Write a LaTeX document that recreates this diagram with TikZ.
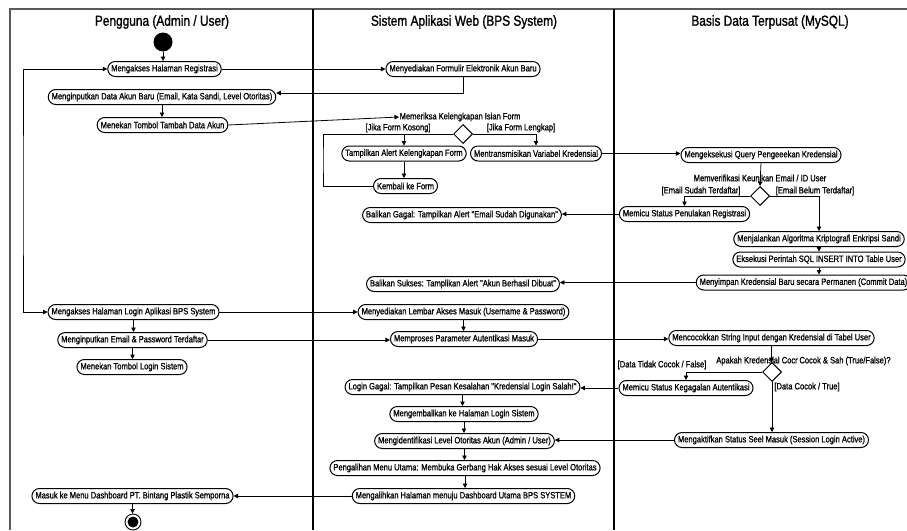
\documentclass[tikz,border=0pt]{standalone}
\usepackage{fontspec}
\usetikzlibrary{arrows.meta,shapes.geometric,calc}
\newfontfamily\narrowfont[FakeStretch=0.82,FakeBold=0.9]{Liberation Sans}
\newfontfamily\narrowheadfont[FakeStretch=0.82,FakeBold=1.2]{Liberation Sans}
\newcommand{\actfont}{\narrowfont\fontsize{9.2}{10}\selectfont}
\newcommand{\headfont}{\narrowheadfont\fontsize{14.5}{16}\selectfont}
\tikzset{
  act/.style={draw, line width=1pt, rounded corners=7.5pt, minimum height=15pt,
    inner xsep=3.5pt, inner ysep=1pt, font=\actfont, fill=white},
  guard/.style={font=\actfont, inner sep=0.5pt},
  decision/.style={diamond, draw, line width=1pt, minimum width=19pt,
    minimum height=19pt, inner sep=0pt, fill=white},
  arr/.style={line width=0.8pt, -{Triangle[length=4.5pt,width=4.5pt]}},
  link/.style={line width=0.8pt},
  lane/.style={line width=1.2pt},
  frame/.style={line width=1.2pt, draw=black!65},
  head/.style={font=\headfont, inner sep=0pt}
}
\begin{document}
\begin{tikzpicture}[x=1pt, y=-1pt]
\useasboundingbox (0,0) rectangle (907,530);
\fill[white] (0,0) rectangle (907,530);

% swimlane frame and dividers
\draw[frame] (10,530) -- (10,9) -- (907,9);
\draw[lane] (313,9) -- (313,530);
\draw[lane] (614,9) -- (614,530);

% lane titles
\node[head] (h1) at (162,22) {Pengguna (Admin / User)};
\node[head] (h2) at (464,22) {Sistem Aplikasi Web (BPS System)};
\node[head] (h3) at (770,22) {Basis Data Terpusat (MySQL)};

% initial and final nodes
\node[circle, fill=black, minimum size=19pt, inner sep=0pt] (start) at (163,42) {};
\node[circle, draw, line width=0.9pt, fill=white, minimum size=16pt, inner sep=0pt] (end) at (133,522) {};
\node[circle, fill=black, minimum size=11pt, inner sep=0pt] (endin) at (end.center) {};

% user lane
\node[act] (A1) at (164.5,69) {Mengakses Halaman Registrasi};
\node[act] (A2) at (162,97) {Menginputkan Data Akun Baru (Email, Kata Sandi, Level Otoritas)};
\node[act] (A3) at (162.5,125) {Menekan Tombol Tambah Data Akun};
\node[act] (A4) at (133.5,312) {Mengakses Halaman Login Aplikasi BPS System};
\node[act] (A5) at (132.5,340) {Menginputkan Email \& Password Terdaftar};
\node[act] (A6) at (132,367) {Menekan Tombol Login Sistem};
\node[act] (A7) at (132.5,496) {Masuk ke Menu Dashboard PT. Bintang Plastik Semporna};

% web system lane
\node[act] (B1) at (463,69) {Menyediakan Formulir Elektronik Akun Baru};
\node[guard, anchor=west] (mem) at (399,117) {Memeriksa Kelengkapan Isian Form};
\node[decision] (D1) at (463,134) {};
\node[guard] (kosong) at (398,128) {[Jika Form Kosong]};
\node[guard] (lengkap) at (521,128) {[Jika Form Lengkap]};
\node[act] (B2) at (404,153.5) {Tampilkan Alert Kelengkapan Form};
\node[act] (B3) at (536,153.5) {Mentransmisikan Variabel Kredensial};
\node[act] (B4) at (405.5,186) {Kembali ke Form};
\node[act] (B5) at (462,215) {Balikan Gagal: Tampilkan Alert "Email Sudah Digunakan"};
\node[act] (B6) at (463,284) {Balikan Sukses: Tamplikan Alert "Akun Berhasil Dibuat"};
\node[act] (B7) at (463.5,312) {Menyediakan Lembar Akses Masuk (Username \& Password)};
\node[act] (B8) at (464,339) {Memproses Parameter Autentikasi Masuk};
\node[act] (B9) at (462.5,387) {Login Gagal: Tampilkan Pesan Kesalahan "Kredensial Login Salah!"};
\node[act] (B10) at (464,414) {Mengembalikan ke Halaman Login Sistem};
\node[act] (B11) at (464.5,441) {Mengidentifikasi Level Otoritas Akun (Admin / User)};
\node[act] (B12) at (465,468) {Pengalihan Menu Utama: Membuka Gerbang Hak Akses sesuai Level Otoritas};
\node[act] (B13) at (463.5,496) {Mengalihkan Halaman menuju Dashboard Utama BPS SYSTEM};

% database lane
\node[act] (C1) at (761,155) {Mengeksekusi Query Pengeeekan Kredensial};
\node[guard] (verif) at (760,178) {Memverifikasi Keunikan Email / ID User};
\node[decision] (D2) at (760,196) {};
\node[guard] (sudah) at (701,191) {[Email Sudah Terdaftar]};
\node[guard] (belum) at (815,191) {[Email Belum Terdaftar]};
\node[act] (C2) at (684.5,214) {Memicu Status Penulakan Registrasi};
\node[act] (C3) at (819,239) {Menjalankan Algoritma Kriptografi Enkripsi Sandi};
\node[act] (C4) at (819,259.5) {Eksekusi Perintah SQL INSERT INTO Table User};
\node[act] (C5) at (803.5,282.5) {Menyimpan Kredensial Baru secara Permanen (Commit Data)};
\node[act] (C6) at (771.5,338) {Mencocokkan String Input dengan Kredensial di Tabel User};
\node[guard] (ask1) at (757,361) {Apakah Kredensial Cocr};
\node[guard] (ask2) at (845,361) {Cocok \& Sah (True/False)?};
\node[decision] (D3) at (772,372) {};
\node[guard] (tidak) at (662,365) {[Data Tidak Cocok / False]};
\node[guard] (cocok) at (807,387) {[Data Cocok / True]};
\node[act] (C7) at (686,388) {Memicu Status Kegagalan Autentikasi};
\node[act] (C8) at (771.5,440) {Mengaktifkan Status Seel Masuk (Session Login Active)};

% routing points
\coordinate (formLoop) at (323,160);
\coordinate (userLoop) at (23,200);

% registration flow
\draw[arr] (start.south) -- (start.south |- A1.north);
\draw[arr] (A1.east) -- (B1.west);
\draw[arr] (B1.south) |- ([yshift=4pt]A2.east);
\draw[arr] (A2.south) -- (A2.south |- A3.north);
\draw[arr] (A3.east) -- (mem.west);
\draw[link] (B4.west) -| (formLoop) |- (D1.west);
\draw[arr] (D1.west) -| (B2.north);
\draw[arr] (D1.east) -| (B3.north);
\draw[arr] (B2.south) -- (B2.south |- B4.north);
\draw[arr] (B3.east) -- (B3.east -| C1.west);
\draw[arr] (C1.south) -- (D2.north);
\draw[arr] (D2.west) -| (C2.north);
\draw[arr] (D2.east) -| (C3.north);
\draw[arr] (C2.west) -- (C2.west -| B5.east);
\draw[arr] (C3.south) -- (C3.south |- C4.north);
\draw[arr] (C4.south) -- (C4.south |- C5.north);
\draw[arr] (C5.west) -- (C5.west -| B6.east);
\draw[{Triangle[length=4.5pt,width=4.5pt]}-{Triangle[length=4.5pt,width=4.5pt]}, line width=0.8pt]
  (A1.west) -| (userLoop) |- (A4.west);

% login flow
\draw[arr] (A4.east) -- (A4.east -| B7.west);
\draw[arr] (A4.south) -- (A4.south |- A5.north);
\draw[arr] (A5.south) -- (A5.south |- A6.north);
\draw[arr] (B7.south) -- (B7.south |- B8.north);
\draw[arr] (A5.east) -- (A5.east -| B8.west);
\draw[arr] (B8.east) -- (B8.east -| C6.west);
\draw[arr] (C6.south) -- (C6.south |- D3.north);
\draw[arr] (D3.west) -| (C7.north);
\draw[arr] (D3.south) -- (D3.south |- C8.north);
\draw[arr] (C7.west) -- (C7.west -| B9.east);
\draw[arr] (C8.west) -- (C8.west -| B11.east);
\draw[arr] (B9.south) -- (B9.south |- B10.north);
\draw[arr] (B10.south) -- (B10.south |- B11.north);
\draw[arr] (B11.south) -- (B11.south |- B12.north);
\draw[arr] (B12.south) -- (B12.south |- B13.north);
\draw[arr] (B13.west) -- (B13.west -| A7.east);
\draw[arr] (A7.south) -- (A7.south |- end.north);
\end{tikzpicture}
\end{document}
